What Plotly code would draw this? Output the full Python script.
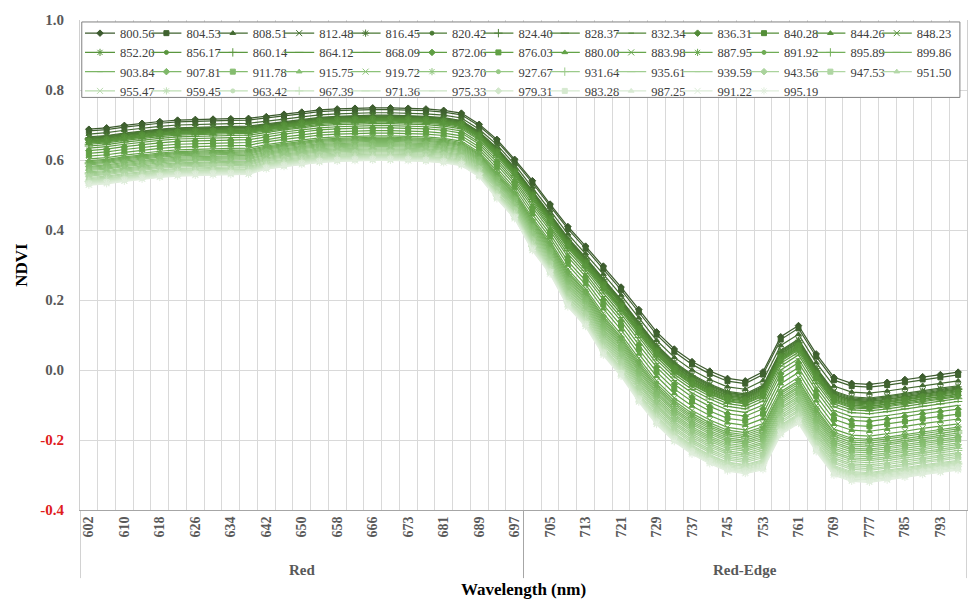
import plotly.graph_objects as go

# ---------------- data ----------------
wavelengths = ["602", "606", "610", "614", "618", "622", "626", "630", "634", "638",
               "642", "646", "650", "654", "658", "662", "666", "670", "673", "677",
               "681", "685", "689", "693", "697", "701", "705", "709", "713", "717",
               "721", "725", "729", "733", "737", "741", "745", "749", "753", "757",
               "761", "765", "769", "773", "777", "781", "785", "789", "793", "797"]

region_names = ["Red", "Red-Edge"]

nir_labels = ["800.56", "804.53", "808.51", "812.48", "816.45", "820.42", "824.40", "828.37", "832.34", "836.31",
              "840.28", "844.26", "848.23", "852.20", "856.17", "860.14", "864.12", "868.09", "872.06", "876.03",
              "880.00", "883.98", "887.95", "891.92", "895.89", "899.86", "903.84", "907.81", "911.78", "915.75",
              "919.72", "923.70", "927.67", "931.64", "935.61", "939.59", "943.56", "947.53", "951.50", "955.47",
              "959.45", "963.42", "967.39", "971.36", "975.33", "979.31", "983.28", "987.25", "991.22", "995.19"]

y_tick_values = [-0.4, -0.2, 0.0, 0.2, 0.4, 0.6, 0.8, 1.0]
y_tick_labels = ["-0.4", "-0.2", "0.0", "0.2", "0.4", "0.6", "0.8", "1.0"]

n800_56 = [.688,.692,.699,.705,.710,.714,.716,.717,.718,.719,.724,.731,.737,.743,.746,.748,.749,.749,.748,.746,.742,.734,.702,.659,.602,.541,.474,.410,.354,.297,.237,.173,.109,.060,.024,-.003,-.024,-.031,-.005,.095,.127,.046,-.021,-.038,-.041,-.035,-.027,-.019,-.013,-.006]
n804_53 = [.683,.687,.694,.700,.705,.709,.711,.712,.713,.714,.719,.726,.732,.738,.741,.743,.744,.744,.743,.741,.737,.729,.697,.654,.597,.535,.468,.403,.347,.289,.229,.165,.101,.052,.016,-.011,-.032,-.039,-.013,.087,.119,.038,-.029,-.046,-.049,-.043,-.035,-.027,-.021,-.014]
n808_51 = [.674,.678,.685,.691,.696,.700,.702,.703,.704,.705,.710,.717,.723,.729,.732,.734,.735,.735,.734,.732,.728,.720,.688,.644,.587,.523,.456,.389,.333,.274,.214,.149,.085,.036,0.0,-.027,-.048,-.055,-.030,.070,.102,.021,-.046,-.063,-.066,-.060,-.052,-.044,-.038,-.031]
n812_48 = [.666,.670,.677,.683,.688,.692,.694,.695,.696,.697,.703,.710,.716,.722,.725,.727,.728,.728,.727,.725,.721,.713,.681,.635,.578,.513,.446,.378,.322,.261,.201,.136,.072,.023,-.013,-.040,-.061,-.068,-.044,.056,.088,.007,-.060,-.077,-.080,-.074,-.066,-.058,-.052,-.045]
n816_45 = [.664,.668,.675,.681,.686,.690,.692,.693,.694,.695,.701,.708,.714,.720,.723,.725,.726,.726,.725,.723,.719,.711,.679,.633,.576,.511,.444,.375,.319,.259,.199,.133,.069,.020,-.016,-.043,-.064,-.071,-.047,.053,.085,.004,-.063,-.080,-.083,-.077,-.069,-.061,-.055,-.048]
n820_42 = [.662,.666,.673,.679,.684,.688,.690,.691,.692,.693,.700,.707,.713,.719,.722,.724,.725,.725,.724,.722,.718,.710,.678,.632,.575,.509,.442,.373,.317,.256,.196,.131,.067,.018,-.018,-.045,-.066,-.073,-.050,.050,.082,.001,-.066,-.083,-.086,-.080,-.072,-.064,-.058,-.051]
n824_40 = [.661,.665,.672,.678,.683,.687,.689,.690,.691,.692,.698,.705,.711,.717,.720,.722,.723,.723,.722,.720,.716,.708,.676,.630,.573,.507,.440,.371,.315,.254,.194,.128,.064,.015,-.021,-.048,-.069,-.076,-.053,.047,.079,-.002,-.069,-.086,-.089,-.083,-.075,-.067,-.061,-.054]
n828_37 = [.659,.663,.670,.676,.681,.685,.687,.688,.689,.690,.697,.704,.710,.716,.719,.721,.722,.722,.721,.719,.715,.707,.675,.628,.571,.505,.438,.369,.313,.251,.191,.125,.061,.012,-.024,-.051,-.072,-.079,-.055,.045,.077,-.004,-.071,-.088,-.091,-.085,-.077,-.069,-.063,-.056]
n832_34 = [.658,.662,.669,.675,.680,.684,.686,.687,.688,.689,.695,.702,.708,.714,.717,.719,.720,.720,.719,.717,.713,.705,.673,.627,.570,.503,.436,.366,.310,.249,.189,.123,.059,.010,-.026,-.053,-.074,-.081,-.058,.042,.074,-.007,-.074,-.091,-.094,-.088,-.080,-.072,-.066,-.059]
n836_31 = [.656,.660,.667,.673,.678,.682,.684,.685,.686,.687,.694,.701,.707,.713,.716,.718,.719,.719,.718,.716,.712,.704,.672,.625,.568,.501,.434,.364,.308,.246,.186,.120,.056,.007,-.029,-.056,-.077,-.084,-.061,.039,.071,-.010,-.077,-.094,-.097,-.091,-.083,-.075,-.069,-.062]
n840_28 = [.654,.658,.665,.671,.676,.680,.682,.683,.684,.685,.692,.699,.705,.711,.714,.716,.717,.717,.716,.714,.710,.702,.670,.623,.566,.499,.432,.362,.306,.243,.183,.117,.053,.004,-.032,-.059,-.080,-.087,-.064,.036,.068,-.013,-.080,-.097,-.100,-.094,-.086,-.078,-.072,-.065]
n844_26 = [.653,.657,.664,.670,.675,.679,.681,.682,.683,.684,.691,.698,.704,.710,.713,.715,.716,.716,.715,.713,.709,.701,.669,.622,.565,.497,.430,.359,.303,.241,.181,.115,.051,.002,-.034,-.061,-.082,-.089,-.067,.033,.065,-.016,-.083,-.100,-.103,-.097,-.089,-.081,-.075,-.068]
n848_23 = [.651,.655,.662,.668,.673,.677,.679,.680,.681,.682,.689,.696,.702,.708,.711,.713,.714,.714,.713,.711,.707,.699,.667,.620,.563,.495,.428,.357,.301,.238,.178,.112,.048,-.001,-.037,-.064,-.085,-.092,-.069,.031,.063,-.018,-.085,-.102,-.105,-.099,-.091,-.083,-.077,-.070]
n852_20 = [.650,.654,.661,.667,.672,.676,.678,.679,.680,.681,.688,.695,.701,.707,.710,.712,.713,.713,.712,.710,.706,.698,.666,.618,.561,.493,.426,.355,.299,.236,.176,.109,.045,-.004,-.040,-.067,-.088,-.095,-.072,.028,.060,-.021,-.088,-.105,-.108,-.102,-.094,-.086,-.080,-.073]
n856_17 = [.648,.652,.659,.665,.670,.674,.676,.677,.678,.679,.686,.693,.699,.705,.708,.710,.711,.711,.710,.708,.704,.696,.664,.616,.559,.491,.424,.352,.296,.233,.173,.107,.043,-.006,-.042,-.069,-.090,-.097,-.075,.025,.057,-.024,-.091,-.108,-.111,-.105,-.097,-.089,-.083,-.076]
n860_14 = [.645,.649,.656,.662,.667,.671,.673,.674,.675,.676,.683,.690,.696,.702,.705,.707,.708,.708,.707,.705,.701,.693,.661,.613,.556,.487,.420,.348,.292,.228,.168,.101,.037,-.012,-.048,-.075,-.096,-.103,-.081,.019,.051,-.030,-.097,-.114,-.117,-.111,-.103,-.095,-.089,-.082]
n864_12 = [.640,.644,.651,.657,.662,.666,.668,.669,.670,.671,.679,.686,.692,.698,.701,.703,.704,.704,.703,.701,.697,.689,.657,.608,.551,.481,.414,.341,.285,.220,.160,.093,.029,-.020,-.056,-.083,-.104,-.111,-.089,.011,.043,-.038,-.105,-.122,-.125,-.119,-.111,-.103,-.097,-.090]
n868_09 = [.634,.638,.645,.651,.656,.660,.662,.663,.664,.665,.673,.680,.686,.692,.695,.697,.698,.698,.697,.695,.691,.683,.651,.601,.544,.473,.406,.332,.276,.210,.150,.083,.019,-.030,-.066,-.093,-.114,-.121,-.100,0.0,.032,-.049,-.116,-.133,-.136,-.130,-.122,-.114,-.108,-.101]
n872_06 = [.627,.631,.638,.644,.649,.653,.655,.656,.657,.658,.667,.674,.680,.686,.689,.691,.692,.692,.691,.689,.685,.677,.645,.594,.537,.465,.398,.323,.267,.200,.140,.072,.008,-.041,-.077,-.104,-.125,-.132,-.111,-.011,.021,-.060,-.127,-.144,-.147,-.141,-.133,-.125,-.119,-.112]
n876_03 = [.619,.623,.630,.636,.641,.645,.647,.648,.649,.650,.659,.666,.672,.678,.681,.683,.684,.684,.683,.681,.677,.669,.637,.586,.529,.455,.388,.311,.255,.187,.127,.059,-.005,-.054,-.090,-.117,-.138,-.145,-.125,-.025,.007,-.074,-.141,-.158,-.161,-.155,-.147,-.139,-.133,-.126]
n880_00 = [.611,.615,.622,.628,.633,.637,.639,.640,.641,.642,.652,.659,.665,.671,.674,.676,.677,.677,.676,.674,.670,.662,.630,.577,.520,.445,.378,.300,.244,.175,.115,.046,-.018,-.067,-.103,-.130,-.151,-.158,-.139,-.039,-.007,-.088,-.155,-.172,-.175,-.169,-.161,-.153,-.147,-.140]
n883_98 = [.603,.607,.614,.620,.625,.629,.631,.632,.633,.634,.644,.651,.657,.663,.666,.668,.669,.669,.668,.666,.662,.654,.622,.569,.512,.435,.368,.288,.232,.162,.102,.033,-.031,-.080,-.116,-.143,-.164,-.171,-.153,-.053,-.021,-.102,-.169,-.186,-.189,-.183,-.175,-.167,-.161,-.154]
n887_95 = [.598,.602,.609,.615,.620,.624,.626,.627,.628,.629,.640,.647,.653,.659,.662,.664,.665,.665,.664,.662,.658,.650,.618,.564,.507,.429,.362,.281,.225,.154,.094,.025,-.039,-.088,-.124,-.151,-.172,-.179,-.162,-.062,-.030,-.111,-.178,-.195,-.198,-.192,-.184,-.176,-.170,-.163]
n891_92 = [.595,.599,.606,.612,.617,.621,.623,.624,.625,.626,.637,.644,.650,.656,.659,.661,.662,.662,.661,.659,.655,.647,.615,.560,.503,.425,.358,.277,.221,.149,.089,.019,-.045,-.094,-.130,-.157,-.178,-.185,-.167,-.067,-.035,-.116,-.183,-.200,-.203,-.197,-.189,-.181,-.175,-.168]
n895_89 = [.592,.596,.603,.609,.614,.618,.620,.621,.622,.623,.634,.641,.647,.653,.656,.658,.659,.659,.658,.656,.652,.644,.612,.557,.500,.421,.354,.272,.216,.144,.084,.014,-.050,-.099,-.135,-.162,-.183,-.190,-.173,-.073,-.041,-.122,-.189,-.206,-.209,-.203,-.195,-.187,-.181,-.174]
n899_86 = [.589,.593,.600,.606,.611,.615,.617,.618,.619,.620,.631,.638,.644,.650,.653,.655,.656,.656,.655,.653,.649,.641,.609,.554,.497,.417,.350,.267,.211,.139,.079,.009,-.055,-.104,-.140,-.167,-.188,-.195,-.179,-.079,-.047,-.128,-.195,-.212,-.215,-.209,-.201,-.193,-.187,-.180]
n903_84 = [.586,.590,.597,.603,.608,.612,.614,.615,.616,.617,.628,.635,.641,.647,.650,.652,.653,.653,.652,.650,.646,.638,.606,.550,.493,.413,.346,.263,.207,.134,.074,.003,-.061,-.110,-.146,-.173,-.194,-.201,-.184,-.084,-.052,-.133,-.200,-.217,-.220,-.214,-.206,-.198,-.192,-.185]
n907_81 = [.582,.586,.593,.599,.604,.608,.610,.611,.612,.613,.625,.632,.638,.644,.647,.649,.650,.650,.649,.647,.643,.635,.603,.547,.490,.409,.342,.258,.202,.129,.069,-.002,-.066,-.115,-.151,-.178,-.199,-.206,-.190,-.090,-.058,-.139,-.206,-.223,-.226,-.220,-.212,-.204,-.198,-.191]
n911_78 = [.579,.583,.590,.596,.601,.605,.607,.608,.609,.610,.622,.629,.635,.641,.644,.646,.647,.647,.646,.644,.640,.632,.600,.543,.486,.405,.338,.254,.198,.124,.064,-.007,-.071,-.120,-.156,-.183,-.204,-.211,-.195,-.095,-.063,-.144,-.211,-.228,-.231,-.225,-.217,-.209,-.203,-.196]
n915_75 = [.576,.580,.587,.593,.598,.602,.604,.605,.606,.607,.619,.626,.632,.638,.641,.643,.644,.644,.643,.641,.637,.629,.597,.540,.483,.401,.334,.249,.193,.118,.058,-.013,-.077,-.126,-.162,-.189,-.210,-.217,-.201,-.101,-.069,-.150,-.217,-.234,-.237,-.231,-.223,-.215,-.209,-.202]
n919_72 = [.573,.577,.584,.590,.595,.599,.601,.602,.603,.604,.616,.623,.629,.635,.638,.640,.641,.641,.640,.638,.634,.626,.594,.537,.480,.397,.330,.244,.188,.113,.053,-.018,-.082,-.131,-.167,-.194,-.215,-.222,-.207,-.107,-.075,-.156,-.223,-.240,-.243,-.237,-.229,-.221,-.215,-.208]
n923_70 = [.570,.574,.581,.587,.592,.596,.598,.599,.600,.601,.613,.620,.626,.632,.635,.637,.638,.638,.637,.635,.631,.623,.591,.533,.476,.393,.326,.240,.184,.108,.048,-.023,-.087,-.136,-.172,-.199,-.220,-.227,-.212,-.112,-.080,-.161,-.228,-.245,-.248,-.242,-.234,-.226,-.220,-.213]
n927_67 = [.566,.570,.577,.583,.588,.592,.594,.595,.596,.597,.610,.617,.623,.629,.632,.634,.635,.635,.634,.632,.628,.620,.588,.530,.473,.389,.322,.235,.179,.103,.043,-.028,-.092,-.141,-.177,-.204,-.225,-.232,-.218,-.118,-.086,-.167,-.234,-.251,-.254,-.248,-.240,-.232,-.226,-.219]
n931_64 = [.563,.567,.574,.580,.585,.589,.591,.592,.593,.594,.607,.614,.620,.626,.629,.631,.632,.632,.631,.629,.625,.617,.585,.526,.469,.385,.318,.231,.175,.098,.038,-.034,-.098,-.147,-.183,-.210,-.231,-.238,-.223,-.123,-.091,-.172,-.239,-.256,-.259,-.253,-.245,-.237,-.231,-.224]
n935_61 = [.560,.564,.571,.577,.582,.586,.588,.589,.590,.591,.604,.611,.617,.623,.626,.628,.629,.629,.628,.626,.622,.614,.582,.523,.466,.381,.314,.226,.170,.093,.033,-.039,-.103,-.152,-.188,-.215,-.236,-.243,-.229,-.129,-.097,-.178,-.245,-.262,-.265,-.259,-.251,-.243,-.237,-.230]
n939_59 = [.557,.561,.568,.574,.579,.583,.585,.586,.587,.588,.601,.608,.614,.620,.623,.625,.626,.626,.625,.623,.619,.611,.579,.520,.463,.377,.310,.221,.165,.088,.028,-.044,-.108,-.157,-.193,-.220,-.241,-.248,-.235,-.135,-.103,-.184,-.251,-.268,-.271,-.265,-.257,-.249,-.243,-.236]
n943_56 = [.554,.558,.565,.571,.576,.580,.582,.583,.584,.585,.598,.605,.611,.617,.620,.622,.623,.623,.622,.620,.616,.608,.576,.516,.459,.373,.306,.217,.161,.083,.023,-.050,-.114,-.163,-.199,-.226,-.247,-.254,-.240,-.140,-.108,-.189,-.256,-.273,-.276,-.270,-.262,-.254,-.248,-.241]
n947_53 = [.550,.554,.561,.567,.572,.576,.578,.579,.580,.581,.595,.602,.608,.614,.617,.619,.620,.620,.619,.617,.613,.605,.573,.513,.456,.369,.302,.212,.156,.078,.018,-.055,-.119,-.168,-.204,-.231,-.252,-.259,-.246,-.146,-.114,-.195,-.262,-.279,-.282,-.276,-.268,-.260,-.254,-.247]
n951_50 = [.547,.551,.558,.564,.569,.573,.575,.576,.577,.578,.592,.599,.605,.611,.614,.616,.617,.617,.616,.614,.610,.602,.570,.509,.452,.365,.298,.208,.152,.073,.013,-.060,-.124,-.173,-.209,-.236,-.257,-.264,-.251,-.151,-.119,-.200,-.267,-.284,-.287,-.281,-.273,-.265,-.259,-.252]
n955_47 = [.544,.548,.555,.561,.566,.570,.572,.573,.574,.575,.589,.596,.602,.608,.611,.613,.614,.614,.613,.611,.607,.599,.567,.506,.449,.361,.294,.203,.147,.067,.007,-.066,-.130,-.179,-.215,-.242,-.263,-.270,-.257,-.157,-.125,-.206,-.273,-.290,-.293,-.287,-.279,-.271,-.265,-.258]
n959_45 = [.542,.546,.553,.559,.564,.568,.570,.571,.572,.573,.587,.594,.600,.606,.609,.611,.612,.612,.611,.609,.605,.597,.565,.504,.447,.359,.292,.201,.145,.065,.005,-.068,-.132,-.181,-.217,-.244,-.265,-.272,-.260,-.160,-.128,-.209,-.276,-.293,-.296,-.290,-.282,-.274,-.268,-.261]
n963_42 = [.541,.545,.552,.558,.563,.567,.569,.570,.571,.572,.586,.593,.599,.605,.608,.610,.611,.611,.610,.608,.604,.596,.564,.503,.446,.357,.290,.198,.142,.062,.002,-.071,-.135,-.184,-.220,-.247,-.268,-.275,-.263,-.163,-.131,-.212,-.279,-.296,-.299,-.293,-.285,-.277,-.271,-.264]
n967_39 = [.539,.543,.550,.556,.561,.565,.567,.568,.569,.570,.584,.591,.597,.603,.606,.608,.609,.609,.608,.606,.602,.594,.562,.501,.444,.355,.288,.196,.140,.060,0.0,-.073,-.137,-.186,-.222,-.249,-.270,-.277,-.265,-.165,-.133,-.214,-.281,-.298,-.301,-.295,-.287,-.279,-.273,-.266]
n971_36 = [.538,.542,.549,.555,.560,.564,.566,.567,.568,.569,.583,.590,.596,.602,.605,.607,.608,.608,.607,.605,.601,.593,.561,.499,.442,.353,.286,.194,.138,.057,-.003,-.076,-.140,-.189,-.225,-.252,-.273,-.280,-.268,-.168,-.136,-.217,-.284,-.301,-.304,-.298,-.290,-.282,-.276,-.269]
n975_33 = [.536,.540,.547,.553,.558,.562,.564,.565,.566,.567,.581,.588,.594,.600,.603,.605,.606,.606,.605,.603,.599,.591,.559,.497,.440,.351,.284,.191,.135,.055,-.005,-.079,-.143,-.192,-.228,-.255,-.276,-.283,-.271,-.171,-.139,-.220,-.287,-.304,-.307,-.301,-.293,-.285,-.279,-.272]
n979_31 = [.534,.538,.545,.551,.556,.560,.562,.563,.564,.565,.580,.587,.593,.599,.602,.604,.605,.605,.604,.602,.598,.590,.558,.496,.439,.349,.282,.189,.133,.052,-.008,-.081,-.145,-.194,-.230,-.257,-.278,-.285,-.274,-.174,-.142,-.223,-.290,-.307,-.310,-.304,-.296,-.288,-.282,-.275]
n983_28 = [.533,.537,.544,.550,.555,.559,.561,.562,.563,.564,.578,.585,.591,.597,.600,.602,.603,.603,.602,.600,.596,.588,.556,.494,.437,.347,.280,.187,.131,.050,-.010,-.084,-.148,-.197,-.233,-.260,-.281,-.288,-.277,-.177,-.145,-.226,-.293,-.310,-.313,-.307,-.299,-.291,-.285,-.278]
n987_25 = [.531,.535,.542,.548,.553,.557,.559,.560,.561,.562,.577,.584,.590,.596,.599,.601,.602,.602,.601,.599,.595,.587,.555,.492,.435,.345,.278,.185,.129,.047,-.013,-.087,-.151,-.200,-.236,-.263,-.284,-.291,-.279,-.179,-.147,-.228,-.295,-.312,-.315,-.309,-.301,-.293,-.287,-.280]
n991_22 = [.530,.534,.541,.547,.552,.556,.558,.559,.560,.561,.575,.582,.588,.594,.597,.599,.600,.600,.599,.597,.593,.585,.553,.491,.434,.343,.276,.182,.126,.045,-.015,-.089,-.153,-.202,-.238,-.265,-.286,-.293,-.282,-.182,-.150,-.231,-.298,-.315,-.318,-.312,-.304,-.296,-.290,-.283]
n995_19 = [.528,.532,.539,.545,.550,.554,.556,.557,.558,.559,.574,.581,.587,.593,.596,.598,.599,.599,.598,.596,.592,.584,.552,.489,.432,.341,.274,.180,.124,.042,-.018,-.092,-.156,-.205,-.241,-.268,-.289,-.296,-.285,-.185,-.153,-.234,-.301,-.318,-.321,-.315,-.307,-.299,-.293,-.286]

series = [n800_56, n804_53, n808_51, n812_48, n816_45, n820_42, n824_40, n828_37, n832_34, n836_31,
          n840_28, n844_26, n848_23, n852_20, n856_17, n860_14, n864_12, n868_09, n872_06, n876_03,
          n880_00, n883_98, n887_95, n891_92, n895_89, n899_86, n903_84, n907_81, n911_78, n915_75,
          n919_72, n923_70, n927_67, n931_64, n935_61, n939_59, n943_56, n947_53, n951_50, n955_47,
          n959_45, n963_42, n967_39, n971_36, n975_33, n979_31, n983_28, n987_25, n991_22, n995_19]

# ---------------- styling ----------------
FONT = "Liberation Serif"
color_anchors = [(0, (60, 90, 46)), (3, (70, 114, 50)), (10, (84, 142, 56)),
                 (20, (98, 162, 70)), (30, (140, 194, 120)), (40, (190, 222, 180)),
                 (49, (224, 238, 220))]


def series_color(k):
    for (k0, c0), (k1, c1) in zip(color_anchors[:-1], color_anchors[1:]):
        if k0 <= k <= k1:
            t = (k - k0) / (k1 - k0)
            rgb = [round(a + (b - a) * t) for a, b in zip(c0, c1)]
            return "rgb(%d,%d,%d)" % tuple(rgb)
    return "rgb(%d,%d,%d)" % color_anchors[-1][1]


symbols = ["diamond", "square", "triangle-up", "x-thin-open", "asterisk-open",
           "circle", "cross-thin-open", "line-ew-open", "line-ew-open"]
sizes = [5, 5, 5, 6, 6, 4, 6, 6, 4]

N_COLS = 13  # legend columns, filled row by row
fig = go.Figure()
for k, (name, vals) in enumerate(zip(nir_labels, series)):
    c = series_color(k)
    col = k % N_COLS
    fig.add_trace(go.Scatter(
        x=wavelengths, y=vals, name=name, mode="lines+markers",
        line=dict(color=c, width=1.2),
        marker=dict(symbol=symbols[k % 9], size=sizes[k % 9], color=c,
                    line=dict(color=c, width=1)),
        legend="legend" if col == 0 else "legend%d" % (col + 1),
    ))

tick_text = [w if i % 2 == 0 else "" for i, w in enumerate(wavelengths)]
y_text = ["<span style='color:#e0201c'>%s</span>" % t if v < 0 else t
          for v, t in zip(y_tick_values, y_tick_labels)]

# the page body adds an 8 px offset, so the figure is sized to fit the window
PLOT_W = 879.0
col_step = 65.8 / PLOT_W
legend_layout = {}
for col in range(N_COLS):
    key = "legend" if col == 0 else "legend%d" % (col + 1)
    legend_layout[key] = dict(
        orientation="v", x=col * col_step, y=1.003, xanchor="left", yanchor="top",
        bgcolor="rgba(0,0,0,0)", borderwidth=0,
        font=dict(family=FONT, size=12.5, color="#404040"),
        itemwidth=30, tracegroupgap=0, traceorder="normal",
    )

n_red = 25
fig.update_layout(
    width=971, height=601,
    margin=dict(l=72, r=12, t=12, b=99, autoexpand=False),
    paper_bgcolor="white", plot_bgcolor="white",
    font=dict(family=FONT),
    showlegend=True,
    xaxis=dict(
        type="category", range=[-0.5, len(wavelengths) - 0.5], automargin=False,
        tickmode="array", tickvals=wavelengths, ticktext=tick_text,
        tickson="boundaries", ticks="", tickangle=-90,
        tickfont=dict(family=FONT, size=14, color="#595959", weight="bold"),
        showgrid=True, gridcolor="#d9d9d9", gridwidth=1,
        showline=True, linecolor="#a6a6a6", linewidth=1, mirror=False,
        title=dict(text="Wavelength (nm)", standoff=46,
                   font=dict(family=FONT, size=17, color="black", weight="bold")),
    ),
    yaxis=dict(
        range=[-0.4, 1.0], tickmode="array", tickvals=y_tick_values, ticktext=y_text,
        automargin=False,
        tickfont=dict(family=FONT, size=15, color="#595959", weight="bold"),
        ticklabelstandoff=12,
        showgrid=True, gridcolor="#d9d9d9", gridwidth=1, zeroline=False,
        showline=True, linecolor="#d0d0d0", linewidth=1, mirror=True,
        title=dict(text="NDVI", standoff=8,
                   font=dict(family=FONT, size=17, color="black", weight="bold")),
    ),
    **legend_layout,
)

# legend frame (white box behind the 13 legend columns)
fig.add_shape(type="rect", xref="paper", yref="paper", x0=0.002, x1=0.992, y0=0.842, y1=0.996,
              fillcolor="white", line=dict(color="#808080", width=1), layer="above")

# group labels and dividers of the two-level category axis
fig.add_annotation(x=(n_red - 1) / 2, y=-0.122, xref="x", yref="paper", yanchor="middle",
                   text="<b>Red</b>", showarrow=False,
                   font=dict(family=FONT, size=15, color="#595959"))
fig.add_annotation(x=n_red + (len(wavelengths) - n_red - 1) / 2, y=-0.122, xref="x", yref="paper",
                   yanchor="middle", text="<b>Red-Edge</b>", showarrow=False,
                   font=dict(family=FONT, size=15, color="#595959"))
for xb in [-0.5, n_red - 0.5, len(wavelengths) - 0.5]:
    fig.add_shape(type="line", xref="x", yref="paper", x0=xb, x1=xb, y0=0, y1=-0.139,
                  line=dict(color="#a6a6a6", width=1))

fig.write_html("out.html")
